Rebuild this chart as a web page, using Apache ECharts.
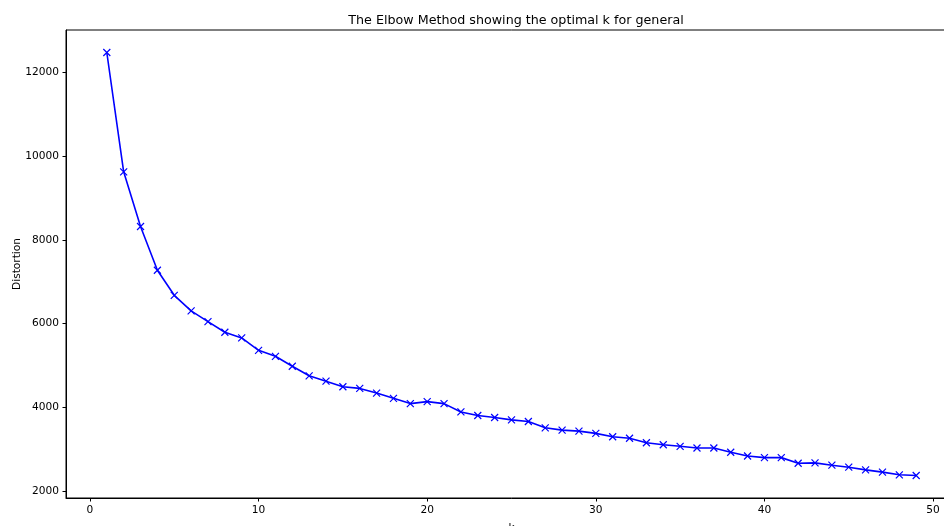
<!DOCTYPE html>
<html>
<head>
<meta charset="UTF-8">
<title>Elbow Method</title>
<script src="https://cdn.jsdelivr.net/npm/echarts@6/dist/echarts.min.js"></script>
<style>
    html, body { margin: 0; background: #fff; overflow: hidden; }
    /* the axes run a bit past the right edge of the window, like the original */
    #chart { width: 960px; height: 526px; }
</style>
</head>
<body>
<div id="chart"></div>
<script>
    // k values and distortion
    const kValues = [];
    for (let k = 1; k <= 49; k++) kValues.push(k);
    const distortion = [
        12470, 9623, 8320, 7277, 6678, 6306, 6052, 5796, 5661, 5365,
        5223, 4986, 4758, 4630, 4498, 4457, 4346, 4220, 4095, 4142,
        4095, 3896, 3810, 3763, 3706, 3668, 3517, 3462, 3438, 3384,
        3303, 3268, 3161, 3114, 3076, 3036, 3036, 2934, 2846, 2806,
        2806, 2673, 2680, 2626, 2578, 2514, 2460, 2396, 2379
    ];
    const xTicks = [0, 10, 20, 30, 40, 50];
    const yTicks = [2000, 4000, 6000, 8000, 10000, 12000];

    const font = 'DejaVu Sans';
    const axisLine = { show: true, onZero: false, lineStyle: { color: '#000', width: 1 } };

    const chart = echarts.init(document.getElementById('chart'));
    chart.setOption({
        animation: false,
        title: {
            text: 'The Elbow Method showing the optimal k for general',
            left: 511,
            textAlign: 'center',
            top: 9,
            textStyle: { fontFamily: font, fontSize: 12.7, fontWeight: 'normal', color: '#000' }
        },
        grid: {
            left: 66, top: 30, right: 3, bottom: 28,
            outerBoundsMode: 'none',
            show: true, borderColor: '#000', borderWidth: 1
        },
        xAxis: {
            type: 'value',
            min: -1.42,
            max: 51.42,
            name: 'k',
            nameLocation: 'middle',
            nameGap: 25,
            nameMoveOverlap: false,
            nameTextStyle: { fontFamily: font, fontSize: 10.6, color: '#000' },
            axisLine: axisLine,
            axisTick: { show: true, length: 3.5, customValues: xTicks, lineStyle: { color: '#000' } },
            axisLabel: {
                customValues: xTicks, formatter: v => String(v),
                fontFamily: font, fontSize: 10.6, color: '#000', margin: 7
            },
            splitLine: { show: false }
        },
        yAxis: {
            type: 'value',
            min: 1843,
            max: 13007,
            name: 'Distortion',
            nameLocation: 'middle',
            nameGap: 43,
            nameMoveOverlap: false,
            nameTextStyle: { fontFamily: font, fontSize: 10.6, color: '#000' },
            axisLine: axisLine,
            axisTick: { show: true, length: 3.5, customValues: yTicks, lineStyle: { color: '#000' } },
            axisLabel: {
                customValues: yTicks, formatter: v => String(v),
                fontFamily: font, fontSize: 10.6, color: '#000', margin: 7
            },
            splitLine: { show: false }
        },
        series: [{
            type: 'line',
            data: kValues.map((k, i) => [k, distortion[i]]),
            lineStyle: { color: '#0000ff', width: 1.6 },
            symbol: 'path://M0,0L10,10M10,0L0,10',
            symbolSize: 7,
            itemStyle: { color: '#0000ff', borderColor: '#0000ff', borderWidth: 1.2 },
            showSymbol: true
        }]
    });
</script>
</body>
</html>
